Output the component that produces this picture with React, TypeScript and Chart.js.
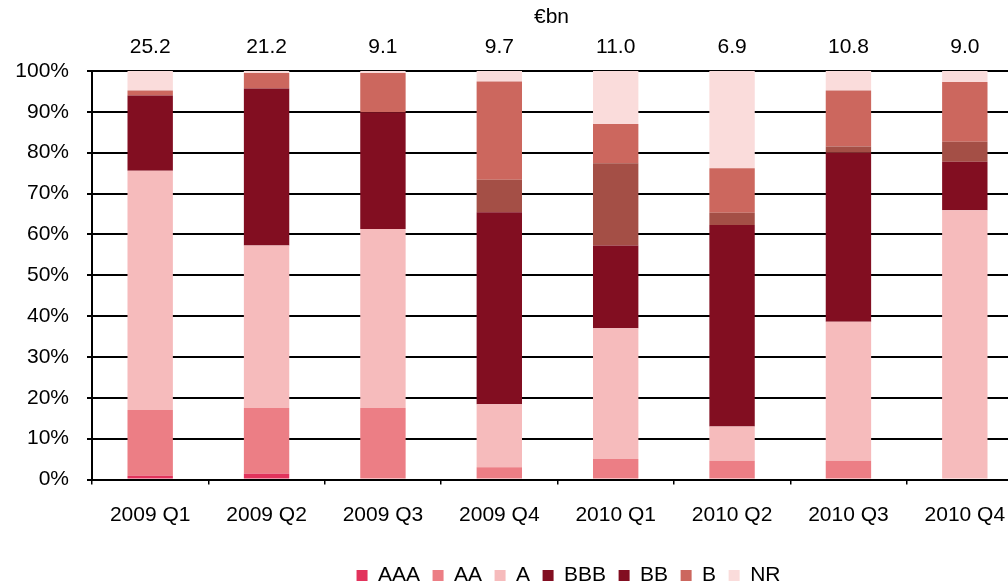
import React, { useEffect, useRef } from 'react';
import { Chart, registerables } from 'chart.js';

Chart.register(...registerables);

const FONT = '"Liberation Sans", Arial, Helvetica, sans-serif';

// Quarterly issuance split by rating (% of each quarter's volume)
const quarters = ['2009 Q1', '2009 Q2', '2009 Q3', '2009 Q4', '2010 Q1', '2010 Q2', '2010 Q3', '2010 Q4'];
const issuanceTotals = ['25.2', '21.2', '9.1', '9.7', '11.0', '6.9', '10.8', '9.0'];

const ratingAAA = [0.9, 1.4, 0, 0, 0, 0, 0, 0];
const ratingAA = [16.1, 16.1, 17.5, 3.0, 5.0, 4.6, 4.6, 0];
const ratingA = [58.6, 39.8, 43.8, 15.4, 32.0, 8.4, 34.0, 65.9];
const ratingBBB = [18.4, 38.4, 28.6, 47.0, 20.3, 49.3, 41.4, 11.9];
const ratingBB = [0, 0, 0, 8.0, 20.1, 3.0, 1.5, 4.9];
const ratingB = [1.2, 3.8, 9.6, 24.0, 9.6, 10.9, 13.7, 14.6];
const ratingNR = [4.8, 0.5, 0.5, 2.6, 13.0, 23.8, 4.8, 2.7];

const percentTicks = [0, 10, 20, 30, 40, 50, 60, 70, 80, 90, 100];

const COLORS = {
  AAA: '#E2335C',
  AA: '#EC7E85',
  A: '#F6BBBC',
  BBB: '#820E21',
  BB: '#A44F46',
  B: '#CC675E',
  NR: '#FADCDB',
};

// Writes the €bn totals above each column and the unit caption.
const totalsPlugin = {
  id: 'issuanceTotals',
  afterDraw(chart: any) {
    const { ctx, chartArea, scales } = chart;
    ctx.save();
    ctx.font = `21px ${FONT}`;
    ctx.fillStyle = '#000';
    ctx.textAlign = 'center';
    ctx.textBaseline = 'middle';
    issuanceTotals.forEach((t, i) => {
      ctx.fillText(t, scales.x.getPixelForValue(i), chartArea.top - 24);
    });
    ctx.fillText('€bn', (chartArea.left + chartArea.right) / 2 - 6, chartArea.top - 54);
    ctx.restore();
  },
};

export default function App() {
  const canvasRef = useRef<HTMLCanvasElement | null>(null);

  useEffect(() => {
    document.body.style.margin = '0';
    const canvas = canvasRef.current;
    if (!canvas) return;

    const series = [
      { label: 'AAA', data: ratingAAA, color: COLORS.AAA },
      { label: 'AA', data: ratingAA, color: COLORS.AA },
      { label: 'A', data: ratingA, color: COLORS.A },
      { label: 'BBB', data: ratingBBB, color: COLORS.BBB },
      { label: 'BB', data: ratingBB, color: COLORS.BB },
      { label: 'B', data: ratingB, color: COLORS.B },
      { label: 'NR', data: ratingNR, color: COLORS.NR },
    ];

    const chart = new Chart(canvas, {
      type: 'bar',
      data: {
        labels: quarters,
        datasets: series.map((s) => ({
          label: s.label,
          data: s.data,
          backgroundColor: s.color,
          borderWidth: 0,
          barPercentage: 0.39,
          categoryPercentage: 1,
          yAxisID: 'y',
        })),
      },
      plugins: [totalsPlugin],
      options: {
        animation: false,
        responsive: true,
        maintainAspectRatio: false,
        layout: { padding: { top: 71, left: 0, right: 0, bottom: 0 } },
        font: { family: FONT },
        plugins: {
          tooltip: { enabled: false },
          title: { display: false },
          legend: {
            position: 'bottom',
            labels: {
              boxWidth: 11,
              boxHeight: 11,
              padding: 12.5,
              color: '#000',
              font: { family: FONT, size: 21 },
              generateLabels: (c: any) => {
                const items = Chart.defaults.plugins.legend.labels.generateLabels(c);
                items.forEach((it: any) => {
                  if (it.text === 'BB') {
                    it.fillStyle = COLORS.BBB;
                    it.strokeStyle = COLORS.BBB;
                  }
                });
                return items;
              },
            },
          },
        },
        scales: {
          x: {
            stacked: true,
            offset: true,
            grid: {
              display: true,
              offset: true,
              drawOnChartArea: false,
              drawTicks: true,
              tickLength: 5,
              color: '#000',
              lineWidth: 1.5,
            },
            border: { display: true, color: '#000', width: 2 },
            ticks: {
              color: '#000',
              padding: 18,
              maxRotation: 0,
              autoSkip: false,
              font: { family: FONT, size: 21 },
            },
            afterFit: (s: any) => {
              s.height = 73;
            },
          },
          y: {
            stacked: true,
            position: 'left',
            min: 0,
            max: 100,
            afterBuildTicks: (s: any) => {
              s.ticks = percentTicks.map((v) => ({ value: v }));
            },
            grid: {
              color: '#000',
              lineWidth: 2,
              drawTicks: true,
              tickLength: 5,
            },
            border: { display: true, color: '#000', width: 2 },
            ticks: {
              color: '#000',
              padding: 18,
              font: { family: FONT, size: 21 },
              callback: (v: any) => `${v}%`,
            },
            afterFit: (s: any) => {
              s.width = 92;
            },
          },
          yPad: {
            position: 'right',
            display: true,
            min: 0,
            max: 100,
            grid: { display: false, drawTicks: false },
            border: { display: false },
            ticks: { display: false },
            afterFit: (s: any) => {
              s.width = 114;
            },
          },
        },
      },
    } as any);

    return () => {
      chart.destroy();
    };
  }, []);

  return (
    <div style={{ width: 1008, height: 587, overflow: 'hidden', position: 'relative' }}>
      <div style={{ width: 1137, height: 596, position: 'relative' }}>
        <canvas ref={canvasRef} />
      </div>
    </div>
  );
}
